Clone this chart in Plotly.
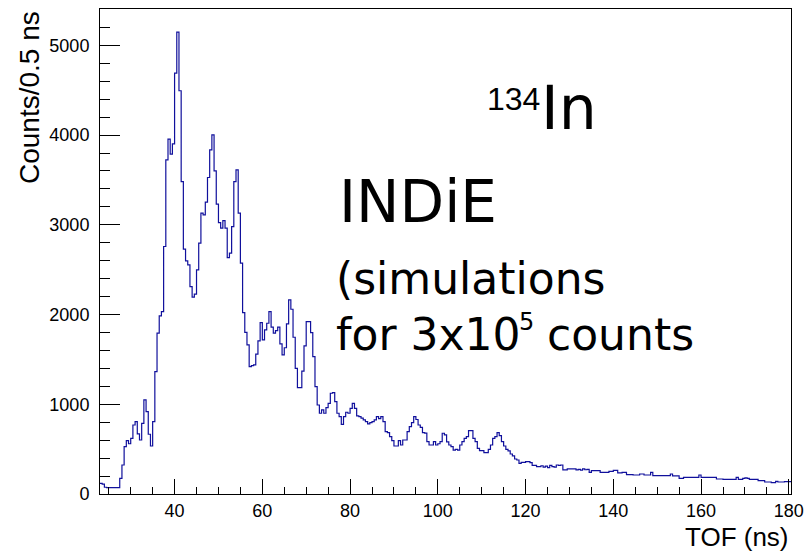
import plotly.graph_objects as go

# Histogram: TOF (ns), 0.5 ns bins starting at 23 ns
bin_start = 23.0
bin_width = 0.5
counts = [
    119, 110, 75, 70, 70, 70, 70, 70, 70, 175,
    323, 528, 595, 560, 620, 769, 806, 669, 602, 788,
    1048, 918, 666, 535, 806, 1364, 1792, 1985, 2033, 2758,
    3724, 3955, 3788, 3903, 4691, 5148, 4494, 3482, 2728, 2598,
    2553, 2311, 2193, 2227, 2498, 2795, 3130, 3110, 3252, 3527,
    3836, 4003, 3601, 3230, 3025, 2962, 3047, 2962, 2635, 2684,
    2980, 3482, 3612, 3130, 2572, 2021, 1802, 1661, 1419, 1430,
    1440, 1558, 1706, 1910, 1717, 1829, 1903, 2033, 1859, 1792,
    1820, 1859, 1673, 1550, 1630, 1896, 2163, 2059, 1747, 1401,
    1185, 1185, 1370, 1650, 1921, 1921, 1799, 1531, 1196, 992,
    900, 937, 900, 962, 1011, 1123, 1130, 1029, 900, 862,
    777, 862, 911, 900, 955, 1011, 955, 870, 862, 845,
    825, 807, 781, 795, 807, 825, 862, 840, 862, 807,
    695, 684, 639, 595, 535, 535, 595, 546, 602, 602,
    695, 751, 795, 862, 830, 769, 743, 684, 678, 583,
    546, 546, 583, 546, 560, 583, 677, 660, 580, 546,
    527, 490, 497, 490, 546, 583, 620, 639, 706, 706,
    620, 583, 509, 483, 483, 461, 461, 497, 546, 620,
    639, 684, 650, 583, 535, 497, 480, 446, 424, 390,
    379, 342, 353, 353, 360, 360, 350, 320, 320, 304,
    304, 315, 300, 310, 295, 320, 305, 300, 323, 320,
    323, 268, 268, 279, 279, 279, 279, 268, 275, 265,
    280, 270, 275, 242, 260, 260, 260, 260, 242, 242,
    242, 242, 253, 253, 264, 264, 235, 235, 242, 242,
    216, 216, 216, 212, 212, 212, 223, 223, 212, 212,
    212, 242, 205, 205, 205, 205, 205, 205, 205, 205,
    223, 201, 201, 201, 175, 175, 186, 186, 186, 186,
    186, 186, 186, 212, 186, 186, 186, 186, 186, 186,
    186, 167, 167, 167, 164, 164, 164, 164, 164, 164,
    186, 164, 164, 175, 180, 175, 164, 164, 164, 164,
    149, 149, 149, 134, 134, 134, 127, 127, 141, 134,
    134, 134, 138, 138, 138,
]

x_title = "TOF (ns)"
y_title = "Counts/0.5 ns"
label_isotope_mass = "134"
label_isotope = "In"
label_lines = ["INDiE", "(simulations", "for 3x10", "5", "counts"]

edges = [bin_start + bin_width * i for i in range(len(counts) + 1)]
ys = counts + [counts[-1]]

fig = go.Figure()
fig.add_trace(go.Scatter(
    x=edges, y=ys, mode="lines", line_shape="hv",
    line=dict(color="#10109c", width=1.2), hoverinfo="skip", showlegend=False,
))

sans = "Liberation Sans, Arial, sans-serif"
tick_font = dict(family=sans, size=18, color="black")
text_font = "DejaVu Sans, sans-serif"

fig.update_layout(
    width=805, height=552,
    margin=dict(l=100, r=14, t=9, b=58, autoexpand=False),
    paper_bgcolor="white", plot_bgcolor="white",
    xaxis=dict(
        range=[23, 180.5], showgrid=False, zeroline=False, automargin=False,
        showline=True, mirror=True, linecolor="black", linewidth=1,
        ticks="inside", tickcolor="black", ticklen=15, dtick=20, tick0=0,
        tickfont=tick_font,
        minor=dict(ticks="inside", ticklen=7, dtick=5, tickcolor="black", showgrid=False),
    ),
    yaxis=dict(
        range=[0, 5405], showgrid=False, zeroline=False, automargin=False,
        showline=True, mirror=True, linecolor="black", linewidth=1,
        ticks="inside", tickcolor="black", ticklen=20, dtick=1000, tick0=0,
        tickfont=tick_font, ticklabelstandoff=6,
        minor=dict(ticks="inside", ticklen=10, dtick=200, tickcolor="black", showgrid=False),
    ),
)

def px(xp):
    return (xp - 100) / 691.0

def py(yp):
    return (494 - yp) / 485.0

def add(text, x, y, size, family, xanchor="left", angle=0):
    return dict(text=text, x=px(x), y=py(y), xref="paper", yref="paper",
                textangle=angle, xanchor=xanchor, yanchor="middle", showarrow=False,
                font=dict(family=family, size=size, color="black"))

ann = [
    add(y_title, 29, 98, 28, sans, xanchor="center", angle=-90),
    add(x_title, 791, 537, 26, sans, xanchor="right"),
    add(label_isotope_mass, 485, 99, 32, sans),
    add(label_isotope, 539, 108, 60, text_font),
    add(label_lines[0], 337, 202, 58, text_font),
    add(label_lines[1], 334, 278, 44, text_font),
    add(label_lines[2], 334, 334, 44, text_font),
    add(label_lines[3], 517, 322, 24, text_font),
    add(label_lines[4], 545, 334, 44, text_font),
]
fig.update_layout(annotations=ann)

fig.write_html("out.html")
